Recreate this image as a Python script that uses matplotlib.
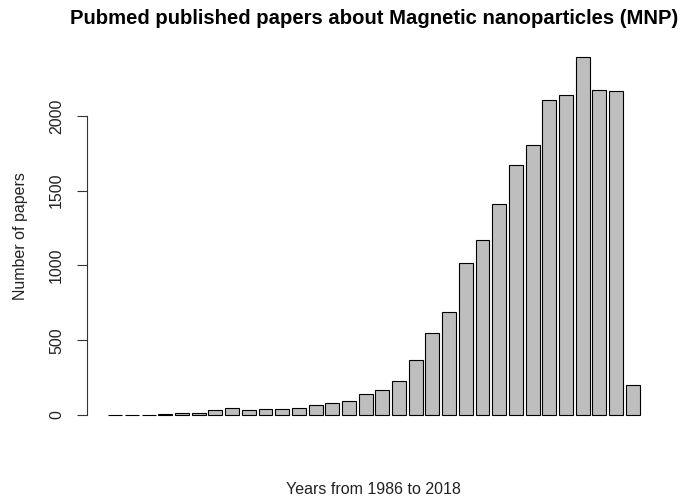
import matplotlib
matplotlib.use("Agg")
import matplotlib.pyplot as plt
import numpy as np

papers = [3, 3, 3, 9, 15, 15, 31, 45, 31, 38, 38, 48, 64, 78, 91, 140,
          168, 229, 368, 545, 691, 1015, 1168, 1413, 1672, 1806, 2107,
          2143, 2395, 2176, 2169, 200]
y_ticks = [0, 500, 1000, 1500, 2000]
title = "Pubmed published papers about Magnetic nanoparticles (MNP)"
xlabel = "Years from 1986 to 2018"
ylabel = "Number of papers"

plt.rcParams['font.family'] = ['Liberation Sans', 'DejaVu Sans']

fig = plt.figure(figsize=(6.81, 5.0), dpi=100)
ax = fig.add_axes([0.1279, 0.1414, 0.9705 - 0.1279, 0.9148 - 0.1414])

n = len(papers)
width = 1.0
space = 0.2
lefts = space + np.arange(n) * (width + space)
ax.bar(lefts, papers, width=width, align='edge', color='#BEBEBE',
       edgecolor='black', linewidth=0.8)

x0, x1 = lefts[0], lefts[-1] + width
dx = (x1 - x0) * 0.04
ax.set_xlim(x0 - dx, x1 + dx)
ymax = max(papers)
dy = ymax * 0.04
ax.set_ylim(-dy, ymax + dy)

for s in ['top', 'right', 'bottom']:
    ax.spines[s].set_visible(False)
ax.spines['left'].set_bounds(y_ticks[0], y_ticks[-1])
ax.spines['left'].set_linewidth(0.8)
ax.spines['left'].set_color('#333333')
ax.set_xticks([])
ax.set_yticks(y_ticks)
ax.set_yticklabels([str(t) for t in y_ticks], rotation=90, va='center',
                   fontsize=11.5, color='#222222')
ax.tick_params(axis='y', length=7.5, width=0.8, pad=9, color='#333333')

fig.text(0.549, 0.964, title, ha='center', va='center', fontsize=14.6,
         fontweight='bold')
fig.text(0.549, 0.02, xlabel, ha='center', va='center', fontsize=11.5,
         color='#222222')
fig.text(0.03, 0.528, ylabel, ha='center', va='center', rotation=90,
         fontsize=11.5, color='#222222')

fig.savefig("out.png", dpi=100)
